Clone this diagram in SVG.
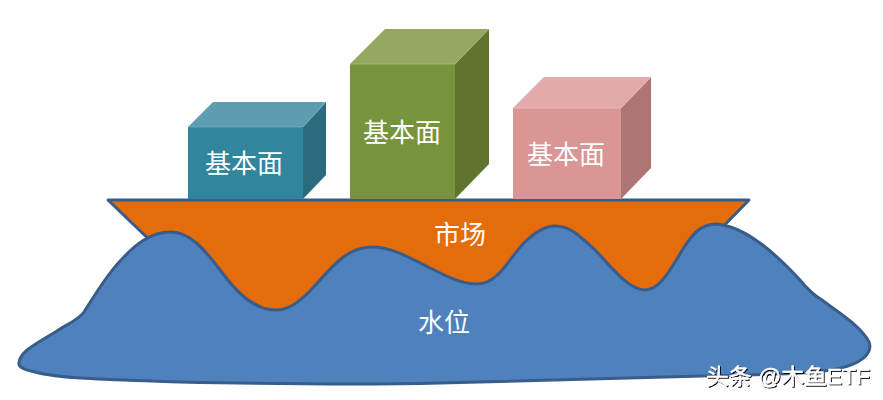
<svg xmlns="http://www.w3.org/2000/svg" width="883" height="400" viewBox="0 0 883 400">
<defs><filter id="sh" x="-5%" y="-20%" width="110%" height="150%"><feDropShadow dx="1" dy="1" stdDeviation="0.5" flood-color="#000"/></filter></defs>
<style>
.t{font-family:"Liberation Sans","Noto Sans CJK SC",sans-serif;font-size:26px;fill:#fff;text-anchor:middle}
.line{stroke:#385d8a;stroke-width:3;stroke-linejoin:round}
.edge{stroke-width:.7}
</style>
<rect width="883" height="400" fill="#fff"/>
<g id="market">
<path class="line" d="M108 200H749L712 238L648 296L276 316L160 250Z" fill="#e46c0a"/>
</g>
<g id="water">
<path class="line" fill="#4f81bd" d="M19 362C21 350 40 342 60 329C70 323 79 319 84 312C95 295 107 274 122 259C135 245 150 232 171 232C190 232 205 250 220 270C235 290 252 310 276 310C288 310 298 303 310 291C330 270 345 247 372 247C392 247 410 258 430 268C448 277 462 284 477 284C500 284 510 255 527 240C537 231 546 226 555 226C570 226 580 236 595 250C610 265 628 290 645 290C660 290 670 270 683 249C692 235 700 224 716 224C745 226 775 253 800 280C808 290 815 296 822 300C835 310 860 325 869 342C872 350 868 360 845 367C820 374 780 374 740 375C640 378 540 381 440 383C360 385 280 384 180 382C120 380 60 379 35 372C22 369 18 367 19 362Z"/>
</g>
<g id="labels">
<text class="t" x="460" y="244">市场</text>
<text class="t" x="444" y="332">水位</text>
</g>
<g id="box1">
<path d="M188 127H303L326 102H213Z" fill="#5c9db0"/>
<path d="M303 127L326 102V175L303 199Z" fill="#2a6b7d"/>
<rect x="188" y="127" width="115" height="72" fill="#31859c"/>
<path d="M188 127H303L326 102" class="edge" fill="none" stroke="#7fb0bf"/>
<text class="t" x="244" y="173">基本面</text>
</g>
<g id="box2">
<path d="M350 64H455L489 29H385Z" fill="#95a862"/>
<path d="M455 64L489 29V164L455 199Z" fill="#60732f"/>
<rect x="350" y="64" width="105" height="135" fill="#77933c"/>
<path d="M350 64H455L489 29" class="edge" fill="none" stroke="#adbd85"/>
<text class="t" x="402" y="142">基本面</text>
</g>
<g id="box3">
<path d="M513 108H621L651 77H544Z" fill="#e2aaaa"/>
<path d="M621 108L651 77V168L621 199Z" fill="#ad7674"/>
<rect x="513" y="108" width="108" height="91" fill="#d99694"/>
<path d="M513 108H621L651 77" class="edge" fill="none" stroke="#ecc5c4"/>
<text class="t" x="566" y="164">基本面</text>
</g>
<g id="watermark" font-family="'Liberation Sans','Noto Sans CJK SC',sans-serif" font-size="22" fill="#fff" stroke="#fff" stroke-width=".3" filter="url(#sh)">
<text x="706" y="384" textLength="164" lengthAdjust="spacingAndGlyphs">头条 @木鱼ETF</text>
</g>
<g id="connectors"></g>
</svg>
